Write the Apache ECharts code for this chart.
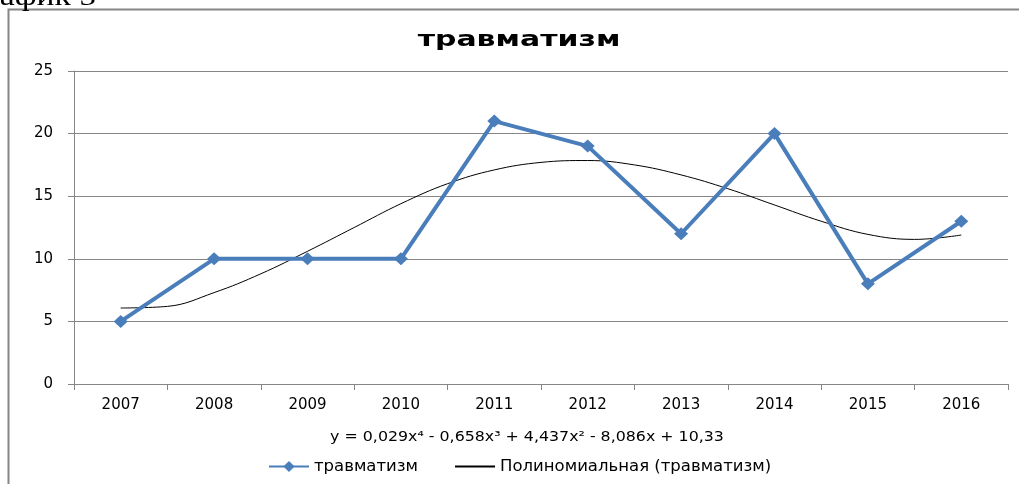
<!DOCTYPE html>
<html>
<head>
<meta charset="utf-8">
<script src="https://cdn.jsdelivr.net/npm/echarts@6/dist/echarts.min.js"></script>
<style>
  html, body { margin: 0; padding: 0; background: #fff; }
  #chart { width: 1019px; height: 484px; }
</style>
</head>
<body>
<div id="chart"></div>
<script>
// данные графика
const years = ['2007', '2008', '2009', '2010', '2011', '2012', '2013', '2014', '2015', '2016'];
const injuries = [5, 10, 10, 10, 21, 19, 12, 20, 8, 13];
// линия тренда (x = номер года)
const trendX = [1, 1.5, 2, 2.5, 3, 3.5, 4, 4.5, 5, 5.5, 6, 6.5, 7, 7.5, 8, 8.5, 9, 9.5, 10];
const trendY = [6.07, 6.2, 7.3, 8.8, 10.6, 12.5, 14.4, 16.0, 17.1, 17.7, 17.85, 17.5, 16.7, 15.6, 14.3, 13.0, 11.95, 11.55, 11.9];
const yTicks = [0, 5, 10, 15, 20, 25];

const blue = '#4a7ebb';
const chart = echarts.init(document.getElementById('chart'));

const option = {
  animation: false,
  grid: { left: 74, right: 11, top: 71, bottom: 100 },
  legend: {
    top: 453,
    left: 263,
    itemGap: 36,
    itemWidth: 40,
    itemHeight: 14,
    textStyle: { fontFamily: 'DejaVu Sans', fontSize: 16.5, color: '#000' },
    data: [
      { name: 'травматизм' },
      { name: 'Полиномиальная (травматизм)', itemStyle: { opacity: 0 } }
    ]
  },
  xAxis: [
    {
      type: 'category',
      data: years,
      boundaryGap: true,
      axisLine: { lineStyle: { color: '#868686' } },
      axisTick: { show: true, length: 6, lineStyle: { color: '#868686' } },
      axisLabel: { fontFamily: 'DejaVu Sans', fontSize: 15, color: '#000', margin: 14 },
      splitLine: { show: false }
    },
    {
      type: 'value',
      min: 0.5,
      max: 10.5,
      show: false
    }
  ],
  yAxis: {
    type: 'value',
    min: yTicks[0],
    max: yTicks[yTicks.length - 1],
    interval: 5,
    axisLine: { show: true, lineStyle: { color: '#868686' } },
    axisTick: { show: true, length: 6, lineStyle: { color: '#868686' } },
    axisLabel: { fontFamily: 'DejaVu Sans', fontSize: 15, color: '#000', margin: 21 },
    splitLine: { lineStyle: { color: '#868686', width: 1 } }
  },
  graphic: [
    {
      type: 'rect',
      shape: { x: 8.5, y: 9.5, width: 1030, height: 500 },
      style: { fill: 'none', stroke: '#868686', lineWidth: 2 },
      silent: true
    },
    {
      type: 'text',
      x: 96,
      y: 12,
      scaleX: 1.2,
      style: {
        text: 'График 5',
        font: '28px "Liberation Serif"',
        fill: '#000',
        align: 'right',
        textAlign: 'right',
        verticalAlign: 'bottom',
        textVerticalAlign: 'bottom'
      }
    },
    {
      type: 'text',
      x: 519,
      y: 40,
      scaleX: 1.36,
      style: {
        text: 'травматизм',
        font: 'bold 22px "DejaVu Sans"',
        fill: '#000',
        align: 'center',
        textAlign: 'center',
        verticalAlign: 'middle',
        textVerticalAlign: 'middle'
      }
    },
    {
      type: 'text',
      x: 527,
      y: 437,
      scaleX: 1.13,
      style: {
        text: 'y = 0,029x⁴ - 0,658x³ + 4,437x² - 8,086x + 10,33',
        font: '14px "DejaVu Sans"',
        fill: '#000',
        align: 'center',
        textAlign: 'center',
        verticalAlign: 'middle',
        textVerticalAlign: 'middle'
      }
    }
  ],
  series: [
    {
      name: 'травматизм',
      type: 'line',
      data: injuries,
      symbol: 'diamond',
      symbolSize: [14, 13],
      lineStyle: { width: 4, color: blue },
      itemStyle: { color: blue },
      z: 3
    },
    {
      name: 'Полиномиальная (травматизм)',
      type: 'line',
      xAxisIndex: 1,
      data: trendX.map((x, i) => [x, trendY[i]]),
      smooth: 0.4,
      symbol: 'none',
      lineStyle: { width: 1, color: '#000' },
      itemStyle: { color: '#000' },
      z: 2
    }
  ]
};

chart.setOption(option);
</script>
</body>
</html>
